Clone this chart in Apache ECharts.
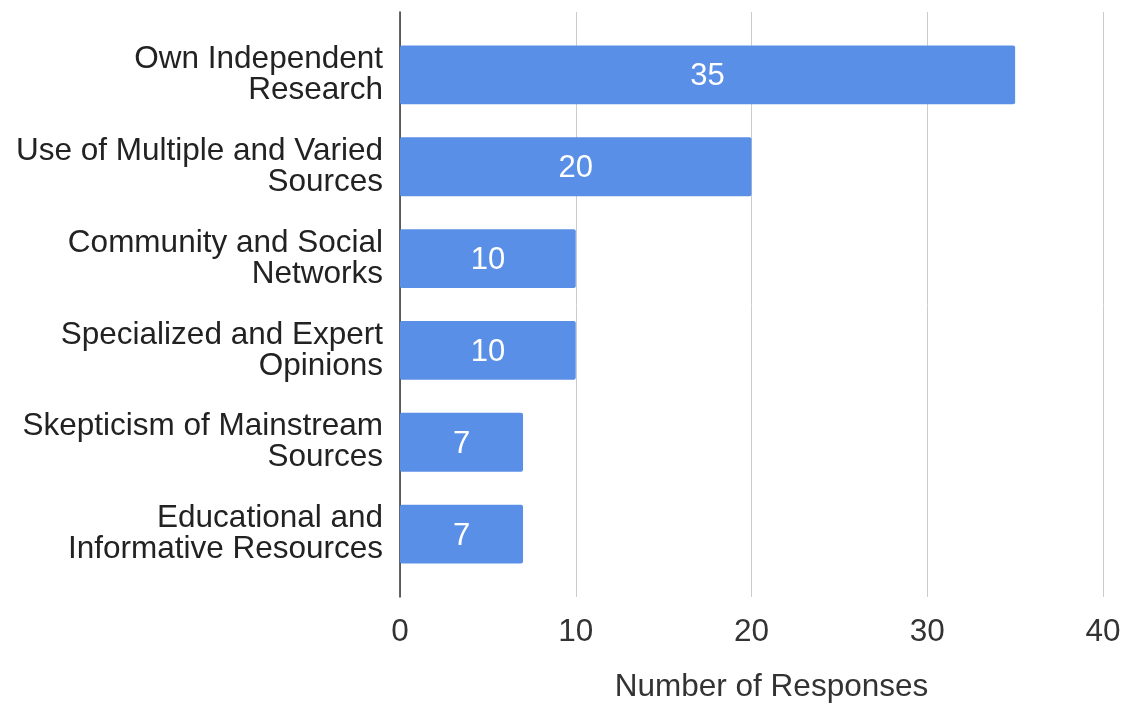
<!DOCTYPE html>
<html>
<head>
<meta charset="utf-8">
<script src="https://cdn.jsdelivr.net/npm/echarts@6/dist/echarts.min.js"></script>
<style>
  html, body { margin: 0; padding: 0; background: #fff; }
  #chart { width: 1129px; height: 703px; }
</style>
</head>
<body>
<div id="chart"></div>
<script>
// Response categories (top to bottom) and their counts
const categories = [
  'Own Independent\nResearch',
  'Use of Multiple and Varied\nSources',
  'Community and Social\nNetworks',
  'Specialized and Expert\nOpinions',
  'Skepticism of Mainstream\nSources',
  'Educational and\nInformative Resources'
];
const responses = [35, 20, 10, 10, 7, 7];
const axisMax = 40;
const axisStep = 10;
const axisTitle = 'Number of Responses';

const font = '"Liberation Sans", Arial, sans-serif';
const chart = echarts.init(document.getElementById('chart'), null, { renderer: 'canvas' });

chart.setOption({
  animation: false,
  backgroundColor: '#ffffff',
  grid: [
    // frame grid: gridlines, baseline and value ticks
    { left: 400, right: 26, top: 12, bottom: 106, outerBoundsMode: 'none', containLabel: false },
    // plotting grid: category bands and bars
    { left: 400, right: 26, top: 29, bottom: 123, outerBoundsMode: 'none', containLabel: false }
  ],
  xAxis: [
    {
      gridIndex: 0, type: 'value', min: 0, max: axisMax, interval: axisStep,
      axisLine: { show: false }, axisTick: { show: false },
      splitLine: { lineStyle: { color: '#cccccc', width: 1 } },
      axisLabel: { color: '#333333', fontSize: 31.5, fontFamily: font, margin: 19 },
      name: axisTitle, nameLocation: 'middle', nameGap: 74,
      nameTextStyle: { color: '#333333', fontSize: 31.5, fontFamily: font, padding: [0, 0, 0, 40] }
    },
    {
      gridIndex: 1, type: 'value', min: 0, max: axisMax, interval: axisStep,
      show: false
    }
  ],
  yAxis: [
    {
      gridIndex: 0, type: 'category', data: [''],
      axisLine: { show: true, lineStyle: { color: '#333333', width: 1.5 } },
      axisTick: { show: false }, axisLabel: { show: false }, splitLine: { show: false }
    },
    {
      gridIndex: 1, type: 'category', data: categories, inverse: true,
      axisLine: { show: false }, axisTick: { show: false }, splitLine: { show: false },
      axisLabel: {
        color: '#222222', fontSize: 31.5, fontFamily: font, margin: 17,
        lineHeight: 31, align: 'right'
      }
    }
  ],
  series: [{
    type: 'bar',
    xAxisIndex: 1, yAxisIndex: 1,
    data: responses,
    barCategoryGap: '36%',
    itemStyle: { color: '#5a8fe7', borderRadius: 2 },
    label: {
      show: true, position: 'inside', color: '#ffffff',
      fontSize: 31, fontFamily: font, offset: [0, 2]
    }
  }]
});
</script>
</body>
</html>
